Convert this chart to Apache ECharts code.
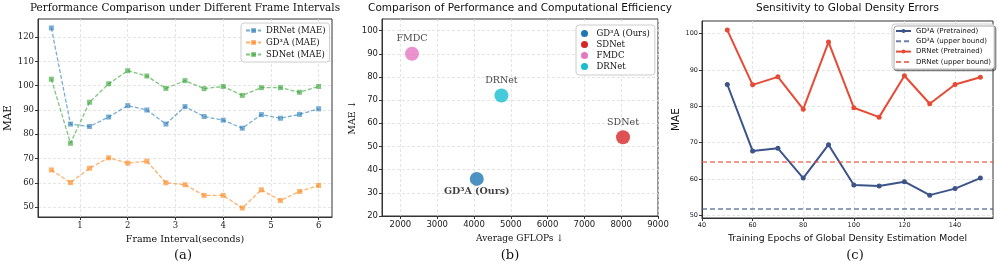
<!DOCTYPE html>
<html><head><meta charset="utf-8">
<script src="https://cdn.jsdelivr.net/npm/echarts@6/dist/echarts.min.js"></script>
<style>html,body{margin:0;padding:0;background:#fff}#c{width:997px;height:266px}</style>
</head><body><div id="c"></div>
<script>
// ---------- (a) Performance under different frame intervals ----------
const frameIntervals = [0.4, 0.8, 1.2, 1.6, 2.0, 2.4, 2.8, 3.2, 3.6, 4.0, 4.4, 4.8, 5.2, 5.6, 6.0];
const drnetMAE = [123.8, 84.2, 83.2, 87.1, 91.8, 90.0, 84.2, 91.4, 87.3, 85.8, 82.5, 88.1, 86.6, 88.2, 90.5];
const gd3aMAE  = [65.3, 60.1, 66.0, 70.3, 68.1, 68.9, 60.0, 59.2, 54.8, 54.8, 49.6, 57.1, 52.7, 56.4, 58.9];
const sdnetMAE = [102.7, 76.3, 93.2, 100.8, 106.2, 104.0, 98.9, 102.1, 98.8, 99.7, 96.0, 99.2, 99.2, 97.3, 99.7];
const aXTicks = [1, 2, 3, 4, 5, 6];
const aYTicks = [50, 60, 70, 80, 90, 100, 110, 120];

// ---------- (b) Performance vs computational efficiency ----------
const effMethods = ['GD³A (Ours)', 'SDNet', 'FMDC', 'DRNet'];
const effGFLOPs = [4075, 8050, 2315, 4745];
const effMAE = [36, 54, 90, 72];
const bXTicks = [2000, 3000, 4000, 5000, 6000, 7000, 8000, 9000];
const bYTicks = [20, 30, 40, 50, 60, 70, 80, 90, 100];

// ---------- (c) Sensitivity to global density errors ----------
const epochs = [50, 60, 70, 80, 90, 100, 110, 120, 130, 140, 150];
const gd3aPretrained  = [86.0, 67.7, 68.4, 60.2, 69.4, 58.3, 58.0, 59.2, 55.5, 57.3, 60.2];
const drnetPretrained = [101.0, 85.9, 88.1, 79.2, 97.7, 79.6, 77.0, 88.4, 80.7, 86.0, 88.0];
const gd3aUpperBound = 51.65;
const drnetUpperBound = 64.6;
const cXTicks = [40, 60, 80, 100, 120, 140];
const cYTicks = [50, 60, 70, 80, 90, 100];

const SERIF = 'DejaVu Serif';
const SANS = 'DejaVu Sans';
const zip = (xs, ys) => xs.map((x, i) => [x, ys[i]]);

function valueAxis(gridIndex, min, max, ticks, font, fontSize, name, nameGap, nameFont, nameSize) {
  return {
    type: 'value', gridIndex, min, max,
    name, nameLocation: 'middle', nameGap,
    nameTextStyle: { fontFamily: nameFont, fontSize: nameSize, color: '#111' },
    axisLine: { show: true, onZero: false, lineStyle: { color: '#333', width: 1 } },
    axisTick: { show: true, length: 3, customValues: ticks, lineStyle: { color: '#333' } },
    axisLabel: { customValues: ticks, formatter: v => String(v), fontFamily: font, fontSize, color: '#222', margin: 4 },
    splitLine: { show: true, lineStyle: { color: '#dedede', type: [3, 2], width: 0.8 } }
  };
}

const chart = echarts.init(document.getElementById('c'), null, { renderer: 'canvas' });

const aColors = ['rgba(31,119,180,0.6)', 'rgba(255,127,14,0.6)', 'rgba(44,160,44,0.6)'];
const aNames = ['DRNet (MAE)', 'GD³A (MAE)', 'SDNet (MAE)'];
const aData = [drnetMAE, gd3aMAE, sdnetMAE];

const bColors = ['#1f77b4', '#d62728', '#e377c2', '#17becf'];

const cBlue = '#3C5488', cRed = '#E64B35';
const cBlueDash = 'rgba(60,84,136,0.75)', cRedDash = 'rgba(230,75,53,0.75)';

const series = [];
aNames.forEach((n, i) => series.push({
  name: n, type: 'line', xAxisIndex: 0, yAxisIndex: 0,
  data: zip(frameIntervals, aData[i]),
  symbol: 'rect', symbolSize: 5,
  lineStyle: { type: [4, 2], width: 1.3, color: aColors[i] },
  itemStyle: { color: aColors[i] },
  emphasis: { disabled: true }, z: 3 - i
}));
effMethods.forEach((n, i) => series.push({
  name: n, type: 'scatter', xAxisIndex: 1, yAxisIndex: 1,
  data: [[effGFLOPs[i], effMAE[i]]],
  symbol: 'circle', symbolSize: 14,
  itemStyle: { color: bColors[i], opacity: 0.8 },
  label: {
    show: true, formatter: n,
    position: n === 'GD³A (Ours)' ? 'bottom' : 'top',
    distance: n === 'GD³A (Ours)' ? 1 : 3,
    fontFamily: SERIF, fontSize: 9.5, color: '#111',
    fontWeight: n === 'GD³A (Ours)' ? 'bold' : 'normal'
  },
  emphasis: { disabled: true }
}));
series.push({
  name: 'GD³A (Pretrained)', type: 'line', xAxisIndex: 2, yAxisIndex: 2,
  data: zip(epochs, gd3aPretrained), symbol: 'circle', symbolSize: 5, showSymbol: true,
  lineStyle: { width: 2, color: cBlue }, itemStyle: { color: cBlue }, emphasis: { disabled: true }, z: 4
});
series.push({
  name: 'GD³A (upper bound)', type: 'line', xAxisIndex: 2, yAxisIndex: 2, data: [], symbol: 'none',
  lineStyle: { width: 1.5, type: [5, 3], color: cBlueDash }, itemStyle: { color: cBlueDash },
  markLine: { silent: true, symbol: ['none', 'none'], label: { show: false },
    lineStyle: { width: 1.5, type: [5, 3], color: cBlueDash }, data: [{ yAxis: gd3aUpperBound }] }
});
series.push({
  name: 'DRNet (Pretrained)', type: 'line', xAxisIndex: 2, yAxisIndex: 2,
  data: zip(epochs, drnetPretrained), symbol: 'circle', symbolSize: 5, showSymbol: true,
  lineStyle: { width: 2, color: cRed }, itemStyle: { color: cRed }, emphasis: { disabled: true }, z: 4
});
series.push({
  name: 'DRNet (upper bound)', type: 'line', xAxisIndex: 2, yAxisIndex: 2, data: [], symbol: 'none',
  lineStyle: { width: 1.5, type: [5, 3], color: cRedDash }, itemStyle: { color: cRedDash },
  markLine: { silent: true, symbol: ['none', 'none'], label: { show: false },
    lineStyle: { width: 1.5, type: [5, 3], color: cRedDash }, data: [{ yAxis: drnetUpperBound }] }
});

const legendBase = {
  orient: 'vertical', backgroundColor: '#fff', borderColor: '#cccccc', borderWidth: 1, borderRadius: 3,
  selectedMode: false, align: 'left'
};

const option = {
  animation: false,
  grid: [
    { left: 38, top: 19, width: 294, height: 198, show: true, borderColor: '#333', borderWidth: 1, outerBoundsMode: 'none' },
    { left: 382, top: 19, width: 276, height: 197, show: true, borderColor: '#333', borderWidth: 1, outerBoundsMode: 'none' },
    { left: 702, top: 21, width: 291, height: 197, show: true, borderColor: '#333', borderWidth: 1, outerBoundsMode: 'none' }
  ],
  xAxis: [
    valueAxis(0, 0.12, 6.28, aXTicks, SERIF, 8.5, 'Frame Interval(seconds)', 12, SERIF, 9.5),
    valueAxis(1, 1500, 9000, bXTicks, SANS, 8.5, 'Average GFLOPs ↓', 12, SERIF, 9),
    valueAxis(2, 40, 155, cXTicks, SANS, 6.5, 'Training Epochs of Global Density Estimation Model', 10, SANS, 9.3)
  ],
  yAxis: [
    valueAxis(0, 45.9, 127.5, aYTicks, SERIF, 8.5, 'MAE', 20, SERIF, 10.5),
    valueAxis(1, 20, 105, bYTicks, SANS, 8.5, 'MAE ↓', 21, SERIF, 9.5),
    valueAxis(2, 49.2, 103.5, cYTicks, SANS, 6.5, 'MAE', 16, SANS, 10.5)
  ],
  legend: [
    Object.assign({}, legendBase, {
      data: aNames, left: 241, top: 23, padding: [2, 4], itemGap: 1, itemWidth: 15, itemHeight: 6, itemTextGap: 6,
      textStyle: { fontFamily: SERIF, fontSize: 8.5, color: '#111', lineHeight: 11 }
    }),
    Object.assign({}, legendBase, {
      data: effMethods, left: 576, top: 25, padding: [3, 5], itemGap: 0, itemWidth: 14, itemHeight: 7, itemTextGap: 5,
      icon: 'circle', itemStyle: { opacity: 1 },
      textStyle: { fontFamily: SERIF, fontSize: 8.5, color: '#111', lineHeight: 11 }
    }),
    Object.assign({}, legendBase, {
      data: [
        { name: 'GD³A (Pretrained)' },
        { name: 'GD³A (upper bound)', itemStyle: { opacity: 0 } },
        { name: 'DRNet (Pretrained)' },
        { name: 'DRNet (upper bound)', itemStyle: { opacity: 0 } }
      ],
      left: 892, top: 24, padding: [2, 3], itemGap: 0.3, itemWidth: 15, itemHeight: 5, itemTextGap: 4,
      shadowColor: 'rgba(0,0,0,0.35)', shadowBlur: 0, shadowOffsetX: 2, shadowOffsetY: 2,
      textStyle: { fontFamily: SANS, fontSize: 7, color: '#111', lineHeight: 10 }
    })
  ],
  graphic: [
    { type: 'text', x: 185, y: 8, style: { text: 'Performance Comparison under Different Frame Intervals', textAlign: 'center', textVerticalAlign: 'middle', font: '10.5px "DejaVu Serif"', fill: '#111' } },
    { type: 'text', x: 520, y: 8, style: { text: 'Comparison of Performance and Computational Efficiency', textAlign: 'center', textVerticalAlign: 'middle', font: '10.5px "DejaVu Sans"', fill: '#111' } },
    { type: 'text', x: 847.5, y: 8, style: { text: 'Sensitivity to Global Density Errors', textAlign: 'center', textVerticalAlign: 'middle', font: '10.5px "DejaVu Sans"', fill: '#111' } },
    { type: 'text', x: 183, y: 256, style: { text: '(a)', textAlign: 'center', textVerticalAlign: 'middle', font: '13px "DejaVu Serif"', fill: '#111' } },
    { type: 'text', x: 510, y: 256, style: { text: '(b)', textAlign: 'center', textVerticalAlign: 'middle', font: '13px "DejaVu Serif"', fill: '#111' } },
    { type: 'text', x: 855, y: 256, style: { text: '(c)', textAlign: 'center', textVerticalAlign: 'middle', font: '13px "DejaVu Serif"', fill: '#111' } }
  ],
  series
};
chart.setOption(option);
</script>
</body></html>
